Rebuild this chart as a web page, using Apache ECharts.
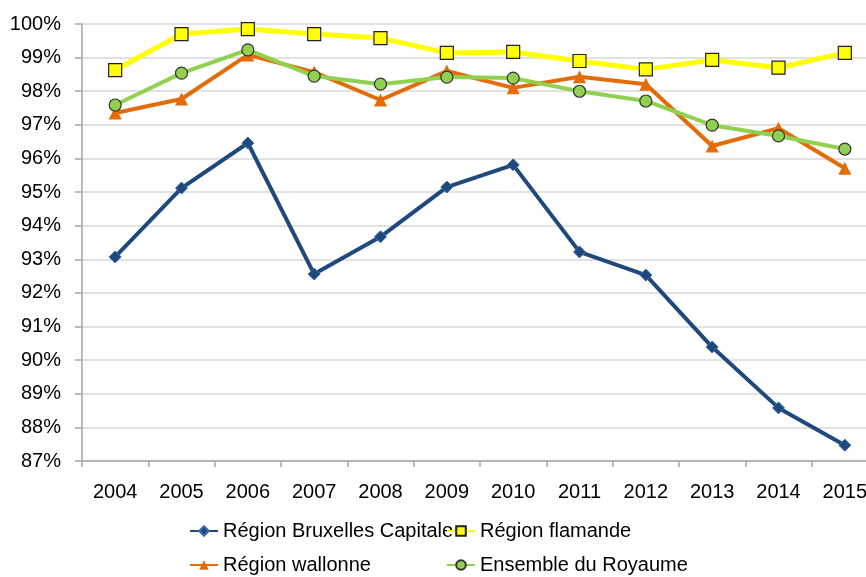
<!DOCTYPE html>
<html><head><meta charset="utf-8">
<script src="https://cdn.jsdelivr.net/npm/echarts@6/dist/echarts.min.js"></script>
<style>html,body{margin:0;padding:0;background:#fff}#c{width:866px;height:577px}</style>
</head><body><div id="c"></div>
<script>
const years = ['2004','2005','2006','2007','2008','2009','2010','2011','2012','2013','2014','2015'];
const bruxelles = [93.07, 95.12, 96.46, 92.56, 93.67, 95.15, 95.81, 93.22, 92.53, 90.39, 88.58, 87.47];
const flamande  = [98.63, 99.70, 99.85, 99.70, 99.58, 99.14, 99.17, 98.90, 98.65, 98.93, 98.70, 99.14];
const wallonne  = [97.35, 97.77, 99.08, 98.57, 97.74, 98.60, 98.10, 98.43, 98.21, 96.37, 96.90, 95.71];
const ensemble  = [97.59, 98.54, 99.23, 98.45, 98.21, 98.42, 98.39, 98.00, 97.71, 96.99, 96.67, 96.28];
const names = ['Région Bruxelles Capitale','Région flamande','Région wallonne','Ensemble du Royaume'];

const FONT = '"Liberation Sans", Arial, sans-serif';
const chart = echarts.init(document.getElementById('c'), null, {renderer:'canvas'});
const legendText = {fontFamily: FONT, fontSize: 20, color: '#000'};
chart.setOption({
  animation: false,
  backgroundColor: '#fff',
  grid: {left: 82, top: 24, right: -12, bottom: 116, containLabel: false, outerBoundsMode: 'none'},
  legend: [
    {data: [names[0], names[2]], orient: 'vertical', left: 189, top: 521, itemWidth: 28, itemHeight: 12, itemGap: 14, textStyle: legendText, padding: 0},
    {data: [names[1], names[3]], orient: 'vertical', left: 446, top: 521, itemWidth: 28, itemHeight: 12, itemGap: 14, textStyle: legendText, padding: 0}
  ],
  xAxis: {
    type: 'category', data: years, boundaryGap: true,
    axisLine: {lineStyle: {color: '#a6a6a6', width: 1.5}},
    axisTick: {show: true, length: 6, lineStyle: {color: '#a6a6a6', width: 1.5}},
    axisLabel: {fontFamily: FONT, fontSize: 20, color: '#000', margin: 21, interval: 0},
    splitLine: {show: false}
  },
  yAxis: {
    type: 'value', min: 87, max: 100, interval: 1,
    axisLine: {show: true, lineStyle: {color: '#a6a6a6', width: 1.5}},
    axisTick: {show: true, length: 7, lineStyle: {color: '#a6a6a6', width: 1.5}},
    axisLabel: {fontFamily: FONT, fontSize: 20, color: '#000', margin: 21, formatter: '{value}%'},
    splitLine: {show: true, lineStyle: {color: '#d9d9d9', width: 1.5}}
  },
  series: [
    {name: names[0], type: 'line', data: bruxelles, symbol: 'diamond', symbolSize: 12,
     lineStyle: {color: '#1f497d', width: 4}, itemStyle: {color: '#1f497d', borderColor: '#3a6aa8', borderWidth: 1}, z: 2},
    {name: names[1], type: 'line', data: flamande, symbol: 'rect', symbolSize: 13,
     lineStyle: {color: '#ffff00', width: 5}, itemStyle: {color: '#ffff00', borderColor: '#222', borderWidth: 1.2}, z: 2},
    {name: names[2], type: 'line', data: wallonne, symbol: 'triangle', symbolSize: 13,
     lineStyle: {color: '#e36c09', width: 4}, itemStyle: {color: '#e36c09', borderColor: '#e36c09', borderWidth: 0}, z: 2},
    {name: names[3], type: 'line', data: ensemble, symbol: 'circle', symbolSize: 12,
     lineStyle: {color: '#92d050', width: 4}, itemStyle: {color: '#92d050', borderColor: '#333', borderWidth: 1.2}, z: 3}
  ]
});
</script></body></html>
